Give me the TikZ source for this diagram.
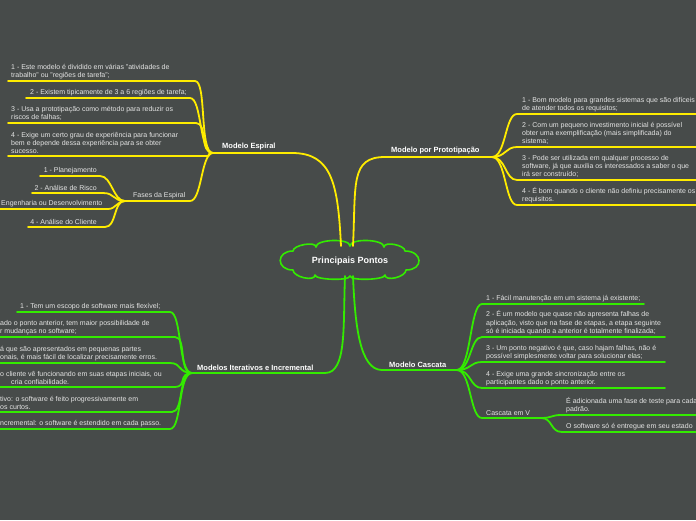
\documentclass[tikz,border=0pt]{standalone}
\usepackage{fontspec}
\setmainfont{Liberation Sans}
\usetikzlibrary{positioning, calc}

\begin{document}
\begin{tikzpicture}[
    x=1pt, y=-1pt,
    font=\fontsize{7}{8.2}\selectfont,
    % --- Styles ---
    leaf/.style={anchor=south west, align=left, inner xsep=0pt, inner ysep=2pt, text=txtGrey},
    leafR/.style={anchor=south east, align=right, inner xsep=0pt, inner ysep=2pt, text=txtGrey},
    mainlbl/.style={anchor=south west, inner xsep=0pt, inner ysep=2.5pt, text=white, font=\fontsize{7.5}{9}\selectfont\bfseries},
    branch_y/.style={line width=1.8pt, line cap=round, color=lnYellow},
    branch_g/.style={line width=1.8pt, line cap=round, color=lnGreen},
    rootlbl/.style={inner sep=0pt, text=white, font=\fontsize{9}{10}\selectfont\bfseries},
    cloudline/.style={draw=lnGreen, line width=1.6pt, fill=bgGrey, line join=round}
]

    % --- Colors ---
    \definecolor{bgGrey}{RGB}{71,75,74}     % Background
    \definecolor{lnYellow}{RGB}{255,236,0}  % Upper branches
    \definecolor{lnGreen}{RGB}{51,235,0}    % Lower branches
    \definecolor{txtGrey}{RGB}{228,228,228} % Leaf text

    \fill[bgGrey] (0,0) rectangle (696,520);
    \useasboundingbox (0,0) rectangle (696,520);

    % ==========================
    % 0. ROOT (cloud)
    % ==========================
    \coordinate (rootC) at (350,261);
    \begin{scope}[shift={(rootC)}]
        \path[cloudline] (-57,-10) .. controls +(0,-6) and +(0,-6) .. (-34,-14)
            .. controls +(0,-8) and +(0,-8) .. (0,-15)
            .. controls +(0,-8) and +(0,-8) .. (34,-14)
            .. controls +(0,-6) and +(0,-6) .. (55,-10)
            .. controls +(18,0) and +(18,0) .. (56,9)
            .. controls +(0,7) and +(0,7) .. (35,14)
            .. controls +(0,5) and +(0,5) .. (0,15)
            .. controls +(0,5) and +(0,5) .. (-35,14)
            .. controls +(0,7) and +(0,7) .. (-57,9)
            .. controls +(-17,0) and +(-17,0) .. cycle;
    \end{scope}
    \node[rootlbl] (root) at (rootC) {Principais Pontos};

    % ==========================
    % 1. MODELO ESPIRAL
    % ==========================
    \coordinate (espFan) at (213,153);
    \coordinate (espEnd) at (292,153);
    \node[mainlbl] (esp) at (222,153) {Modelo Espiral};
    \draw[branch_y] ($(rootC)+(-9,-15)$) .. controls +(-3,-62) and +(40,0) .. (espEnd) -- (espFan);

    \node[leaf] (esp1) at (11,81) {1 - Este modelo é dividido em várias "atividades de\\trabalho" ou "regiões de tarefa";};
    \node[leaf] (esp2) at (30,98) {2 - Existem tipicamente de 3 a 6 regiões de tarefa;};
    \node[leaf] (esp3) at (11,123) {3 - Usa a prototipação como método para reduzir os\\riscos de falhas;};
    \node[leaf] (esp4) at (11,156) {4 - Exige um certo grau de experiência para funcionar\\bem e depende dessa experiência para se obter\\sucesso.};

    \draw[branch_y] (espFan) .. controls +(-14,0) and +(12,0) .. (195,81) -- (8,81);
    \draw[branch_y] (espFan) .. controls +(-14,0) and +(12,0) .. (190,98) -- (26,98);
    \draw[branch_y] (espFan) .. controls +(-14,0) and +(12,0) .. (196,123) -- (8,123);
    \draw[branch_y] (espFan) .. controls +(-8,0) and +(8,0) .. (205,156) -- (8,156);

    % Fases da Espiral
    \coordinate (fasFan) at (125,201);
    \node[leaf] (fas) at (133,201) {Fases da Espiral};
    \draw[branch_y] (espFan) .. controls +(-12,0) and +(12,0) .. (190,201) -- (fasFan);

    \node[leafR] (fas1) at (97,176) {1 - Planejamento};
    \node[leafR] (fas2) at (97,193) {2 - Análise de Risco};
    \node[leaf] (fas3) at (1,209) {Engenharia ou Desenvolvimento};
    \node[leafR] (fas4) at (97,227) {4 - Análise do Cliente};

    \draw[branch_y] (fasFan) .. controls +(-12,0) and +(12,0) .. (100,176) -- (40,176);
    \draw[branch_y] (fasFan) .. controls +(-12,0) and +(12,0) .. (103,193) -- (32,193);
    \draw[branch_y] (fasFan) .. controls +(-8,0) and +(8,0) .. (108,209) -- (0,209);
    \draw[branch_y] (fasFan) .. controls +(-12,0) and +(12,0) .. (105,227) -- (28,227);

    % ==========================
    % 2. MODELO POR PROTOTIPACAO
    % ==========================
    \coordinate (proFan) at (492,157);
    \coordinate (proEnd) at (385,157);
    \node[mainlbl] (pro) at (391,157) {Modelo por Prototipação};
    \draw[branch_y] ($(rootC)+(3,-15)$) .. controls +(3,-62) and +(-35,0) .. (proEnd) -- (proFan);

    \node[leaf] (pro1) at (522,114) {1 - Bom modelo para grandes sistemas que são difíceis\\de atender todos os requisitos;};
    \node[leaf] (pro2) at (522,147) {2 - Com um pequeno investimento inicial é possível\\obter uma exemplificação (mais simplificada) do\\sistema;};
    \node[leaf] (pro3) at (522,180) {3 - Pode ser utilizada em qualquer processo de\\software, já que auxilia os interessados a saber o que\\irá ser construído;};
    \node[leaf] (pro4) at (522,205) {4 - É bom quando o cliente não definiu precisamente os\\requisitos.};

    \foreach \y in {114, 147, 180, 205} {
        \draw[branch_y] (proFan) .. controls +(14,0) and +(-12,0) .. (517,\y) -- (700,\y);
    }

    % ==========================
    % 3. MODELOS ITERATIVOS
    % ==========================
    \coordinate (itFan) at (192,373);
    \coordinate (itEnd) at (325,373);
    \node[mainlbl] (it) at (197,373) {Modelos Iterativos e Incremental};
    \draw[branch_g] ($(rootC)+(-5,15)$) .. controls +(-2,50) and +(22,0) .. (itEnd) -- (itFan);

    \node[leaf] (it1) at (20,312) {1 - Tem um escopo de software mais flexível;};
    \node[leaf] (it2) at (0,337) {ado o ponto anterior, tem maior possibilidade de\\r mudanças no software;};
    \node[leaf] (it3) at (0,363) {á que são apresentados em pequenas partes\\onais, é mais fácil de localizar precisamente erros.};
    \node[leaf] (it4) at (0,387) {o cliente vê funcionando em suas etapas iniciais, ou\\\hspace*{11pt}cria confiabilidade.};
    \node[leaf] (it5) at (0,412) {tivo: o software é feito progressivamente em\\os curtos.};
    \node[leaf] (it6) at (0,429) {ncremental: o software é estendido em cada passo.};

    \draw[branch_g] (itFan) .. controls +(-14,0) and +(12,0) .. (170,312) -- (17,312);
    \draw[branch_g] (itFan) .. controls +(-14,0) and +(12,0) .. (175,337) -- (0,337);
    \draw[branch_g] (itFan) .. controls +(-14,0) and +(12,0) .. (170,363) -- (0,363);
    \draw[branch_g] (itFan) .. controls +(-14,0) and +(12,0) .. (175,387) -- (0,387);
    \draw[branch_g] (itFan) .. controls +(-14,0) and +(12,0) .. (172,412) -- (0,412);
    \draw[branch_g] (itFan) .. controls +(-14,0) and +(12,0) .. (170,429) -- (0,429);

    % ==========================
    % 4. MODELO CASCATA
    % ==========================
    \coordinate (casFan) at (457,370);
    \coordinate (casEnd) at (382,370);
    \node[mainlbl] (cas) at (389,370) {Modelo Cascata};
    \draw[branch_g] ($(rootC)+(3,15)$) .. controls +(2,50) and +(-22,0) .. (casEnd) -- (casFan);

    \node[leaf] (cas1) at (486,304) {1 - Fácil manutenção em um sistema já existente;};
    \node[leaf] (cas2) at (486,337) {2 - É um modelo que quase não apresenta falhas de\\aplicação, visto que na fase de etapas, a etapa seguinte\\só é iniciada quando a anterior é totalmente finalizada;};
    \node[leaf] (cas3) at (486,362) {3 - Um ponto negativo é que, caso hajam falhas, não é\\possível simplesmente voltar para solucionar elas;};
    \node[leaf] (cas4) at (486,388) {4 - Exige uma grande sincronização entre os\\participantes dado o ponto anterior.};

    \draw[branch_g] (casFan) .. controls +(14,0) and +(-12,0) .. (482,304) -- (644,304);
    \draw[branch_g] (casFan) .. controls +(14,0) and +(-12,0) .. (482,337) -- (665,337);
    \draw[branch_g] (casFan) .. controls +(14,0) and +(-12,0) .. (482,362) -- (665,362);
    \draw[branch_g] (casFan) .. controls +(14,0) and +(-12,0) .. (482,388) -- (665,388);

    % Cascata em V
    \coordinate (cvFan) at (541,418);
    \node[leaf] (cv) at (486,418) {Cascata em V};
    \draw[branch_g] (casFan) .. controls +(14,0) and +(-12,0) .. (482,418) -- (cvFan);

    \node[leaf] (cv1) at (566,415) {É adicionada uma fase de teste para cada\\padrão.};
    \node[leaf] (cv2) at (566,432) {O software só é entregue em seu estado};

    \draw[branch_g] (cvFan) .. controls +(12,0) and +(-12,0) .. (562,415) -- (700,415);
    \draw[branch_g] (cvFan) .. controls +(12,0) and +(-12,0) .. (562,432) -- (700,432);

\end{tikzpicture}
\end{document}
